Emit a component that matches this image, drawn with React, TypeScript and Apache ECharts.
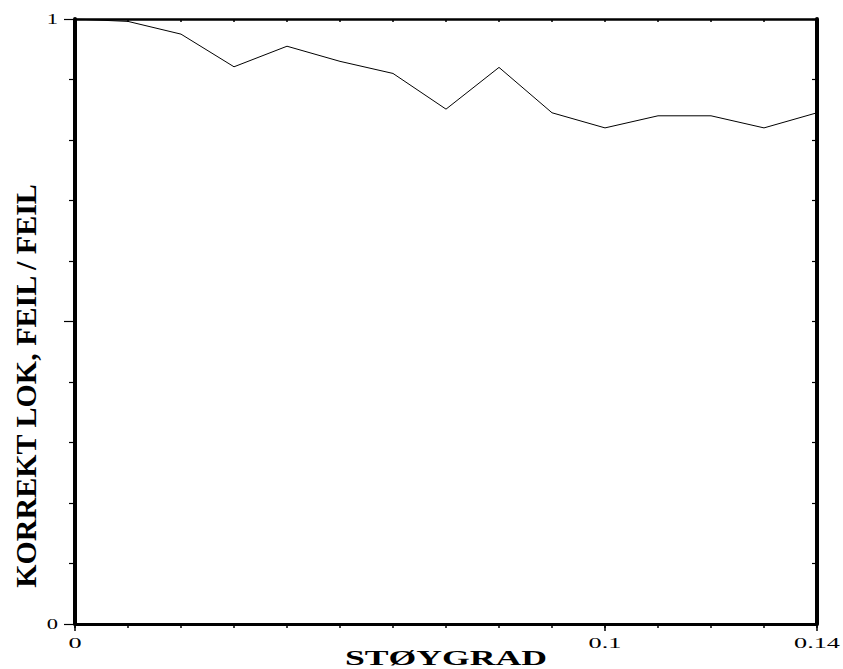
import { useEffect, useRef } from "react";
import * as echarts from "echarts";

// Noise level (x) and share of correct localisations (y)
const noiseLevels = [0, 0.01, 0.02, 0.03, 0.04, 0.05, 0.06, 0.07, 0.08, 0.09, 0.1, 0.11, 0.12, 0.13, 0.14];
const correctShare = [1.0, 0.996, 0.975, 0.921, 0.955, 0.93, 0.91, 0.851, 0.92, 0.845, 0.82, 0.84, 0.84, 0.82, 0.845];

// Tick labels that are printed
const xLabelValues = [0, 0.1, 0.14];
const xLabelTexts = ["0", "0.1", "0.14"];
const yLabelValues = [0, 1];
const yLabelTexts = ["0", "1"];

const xTitle = "STØYGRAD";
const yTitle = "KORREKT LOK, FEIL / FEIL";

const SERIF = "Liberation Serif";
const INK = "#000";

export default function App() {
  const ref = useRef<HTMLDivElement | null>(null);

  useEffect(() => {
    if (!ref.current) return;
    const chart = echarts.init(ref.current, undefined, { renderer: "svg" });

    const grid = { left: 75, right: 26, top: 19, bottom: 45 };

    chart.setOption({
      animation: false,
      backgroundColor: "#fff",
      grid,
      xAxis: [
        {
          type: "value",
          position: "bottom",
          min: 0,
          max: 0.14,
          interval: 0.01,
          axisLine: { show: true, onZero: false, lineStyle: { color: INK, width: 3 } },
          axisTick: { show: true, length: 4, lineStyle: { color: INK, width: 1.5 } },
          axisLabel: { show: false },
          splitLine: { show: false },
        },
        {
          type: "value",
          position: "bottom",
          offset: 0,
          min: 0,
          max: 0.14,
          interval: 0.1,
          axisLine: { show: false },
          axisTick: { show: true, length: 7, lineStyle: { color: INK, width: 1.5 } },
          axisLabel: { show: false },
          splitLine: { show: false },
        },
        {
          type: "value",
          position: "top",
          min: 0,
          max: 0.14,
          interval: 0.01,
          axisLine: { show: true, onZero: false, lineStyle: { color: INK, width: 2.5 } },
          axisTick: { show: true, inside: true, length: 3, lineStyle: { color: INK, width: 1.5 } },
          axisLabel: { show: false },
          splitLine: { show: false },
        },
      ],
      yAxis: [
        {
          type: "value",
          position: "left",
          min: 0,
          max: 1,
          interval: 0.5,
          axisLine: { show: true, onZero: false, lineStyle: { color: INK, width: 4 } },
          axisTick: { show: true, length: 11, lineStyle: { color: INK, width: 1.2 } },
          minorTick: { show: true, splitNumber: 5, length: 6, lineStyle: { color: INK, width: 1.2 } },
          axisLabel: { show: false },
          splitLine: { show: false },
        },
        {
          type: "value",
          position: "right",
          min: 0,
          max: 1,
          interval: 0.1,
          axisLine: { show: true, onZero: false, lineStyle: { color: INK, width: 4 } },
          axisTick: { show: true, inside: true, length: 5, lineStyle: { color: INK, width: 1.2 } },
          axisLabel: { show: false },
          splitLine: { show: false },
        },
      ],
      series: [
        {
          type: "line",
          xAxisIndex: 0,
          yAxisIndex: 0,
          data: noiseLevels.map((x, i) => [x, correctShare[i]]),
          showSymbol: false,
          symbol: "none",
          lineStyle: { color: INK, width: 1 },
          z: 1,
        },
      ],
    });

    // Place the stretched serif tick labels and titles using the axis scales
    const xPix = (v: number) => chart.convertToPixel({ xAxisIndex: 0 }, v) as number;
    const yPix = (v: number) => chart.convertToPixel({ yAxisIndex: 0 }, v) as number;
    const bottomY = yPix(0);
    const leftX = xPix(0);
    const rightX = xPix(0.14);

    const tickFont = { fontFamily: SERIF, fontSize: 15, fill: INK };

    const graphics: any[] = [];
    xLabelValues.forEach((v, i) => {
      graphics.push({
        type: "text",
        x: xPix(v),
        y: bottomY + 19,
        scaleX: 1.75,
        style: { ...tickFont, text: xLabelTexts[i], align: "center", verticalAlign: "middle" },
      });
    });
    yLabelValues.forEach((v, i) => {
      graphics.push({
        type: "text",
        x: leftX - 17,
        y: yPix(v),
        scaleX: 1.5,
        style: { ...tickFont, text: yLabelTexts[i], align: "right", verticalAlign: "middle" },
      });
    });
    graphics.push({
      type: "text",
      x: (leftX + rightX) / 2,
      y: bottomY + 34,
      scaleX: 1.7,
      style: {
        text: xTitle,
        fontFamily: SERIF,
        fontWeight: "bold",
        fontSize: 21,
        fill: INK,
        align: "center",
        verticalAlign: "middle",
      },
    });
    graphics.push({
      type: "text",
      x: 25,
      y: 386,
      rotation: Math.PI / 2,
      style: {
        text: yTitle,
        fontFamily: SERIF,
        fontWeight: "bold",
        fontSize: 30,
        fill: INK,
        align: "center",
        verticalAlign: "middle",
      },
    });

    chart.setOption({ graphic: graphics });

    return () => chart.dispose();
  }, []);

  return (
    <div
      ref={ref}
      style={{ position: "fixed", left: 0, top: 0, width: 843, height: 669, background: "#fff" }}
    />
  );
}
